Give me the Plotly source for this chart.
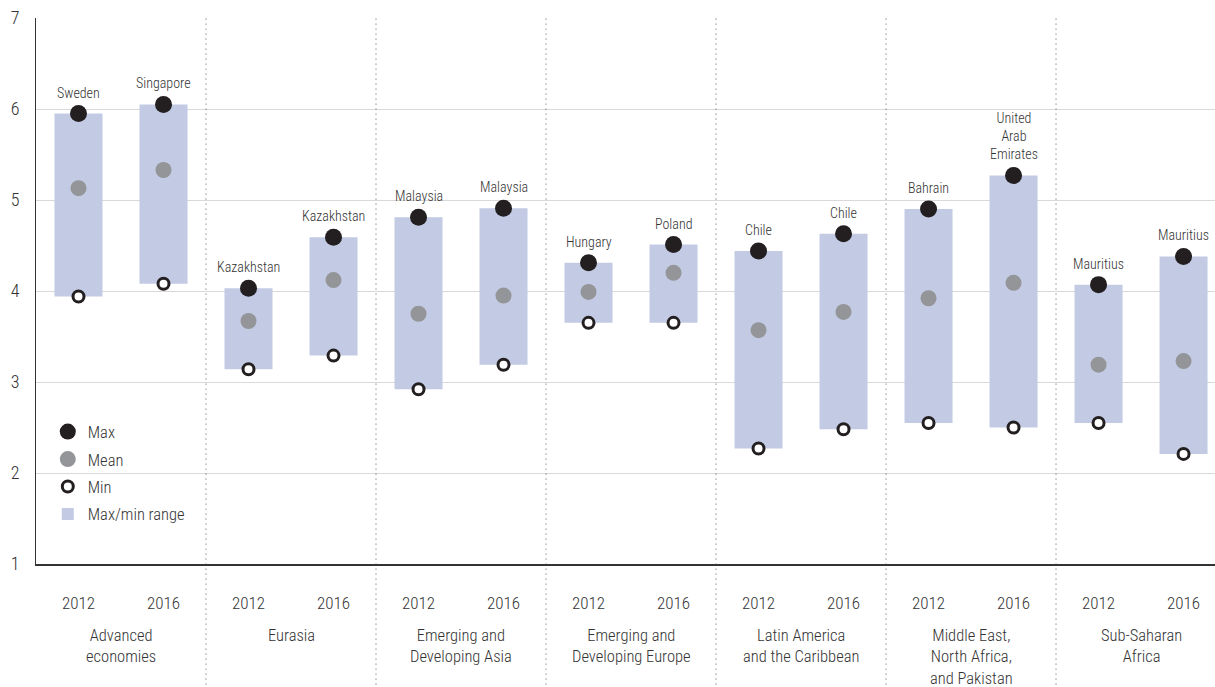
import plotly.graph_objects as go

groups = ["Advanced<br>economies", "Eurasia", "Emerging and<br>Developing Asia",
          "Emerging and<br>Developing Europe", "Latin America<br>and the Caribbean",
          "Middle East,<br>North Africa,<br>and Pakistan", "Sub-Saharan<br>Africa"]
years = ["2012", "2016"]
max_vals = [5.95, 6.05, 4.03, 4.59, 4.81, 4.91, 4.31, 4.51, 4.44, 4.63, 4.90, 5.27, 4.07, 4.38]
mean_vals = [5.13, 5.33, 3.67, 4.12, 3.75, 3.95, 3.99, 4.20, 3.57, 3.77, 3.92, 4.09, 3.19, 3.23]
min_vals = [3.94, 4.08, 3.14, 3.29, 2.92, 3.19, 3.65, 3.65, 2.27, 2.48, 2.55, 2.50, 2.55, 2.21]
max_labels = ["Sweden", "Singapore", "Kazakhstan", "Kazakhstan", "Malaysia", "Malaysia",
              "Hungary", "Poland", "Chile", "Chile", "Bahrain", "United<br>Arab<br>Emirates",
              "Mauritius", "Mauritius"]

FONT = "Roboto Condensed, Liberation Sans Narrow, Arial Narrow, sans-serif"
TXT = "#333333"
W = 300

xs = [2 * g + k for g in range(len(groups)) for k in range(len(years))]
tick_text = [years[k] for g in range(len(groups)) for k in range(len(years))]

fig = go.Figure()
fig.add_trace(go.Bar(
    x=xs, y=[a - b for a, b in zip(max_vals, min_vals)], base=min_vals,
    width=0.565, marker=dict(color="#c3cbe4", line=dict(width=0)),
    name="Max/min range", legendrank=4, legendgroup="d", hoverinfo="skip"))
fig.add_trace(go.Scatter(
    x=xs, y=max_vals, mode="markers", name="Max", legendrank=1, legendgroup="a",
    marker=dict(size=17, color="#231f20", line=dict(width=0))))
fig.add_trace(go.Scatter(
    x=xs, y=mean_vals, mode="markers", name="Mean", legendrank=2, legendgroup="b",
    marker=dict(size=16, color="#939598", line=dict(width=0))))
fig.add_trace(go.Scatter(
    x=xs, y=min_vals, mode="markers", name="Min", legendrank=3, legendgroup="c",
    marker=dict(size=11, color="white", line=dict(width=3, color="#231f20"))))

annotations = []
for x, y, lab in zip(xs, max_vals, max_labels):
    annotations.append(dict(x=x, y=y, xref="x", yref="y", text=lab, showarrow=False,
                            yanchor="bottom", yshift=11,
                            font=dict(family=FONT, size=14, color=TXT, weight=W)))
for g, name in enumerate(groups):
    annotations.append(dict(x=2 * g + 0.5, y=-0.11, xref="x", yref="paper", text=name,
                            showarrow=False, yanchor="top", xanchor="center",
                            font=dict(family=FONT, size=16.5, color=TXT, weight=W)))

shapes = []
for g in range(1, len(groups)):
    shapes.append(dict(type="line", xref="x", yref="paper", x0=2 * g - 0.5, x1=2 * g - 0.5,
                       y0=-0.23, y1=1, line=dict(color="#555555", width=1, dash="1px,4px")))

fig.update_layout(
    width=1215, height=687,
    margin=dict(l=36, r=0, t=18, b=123),
    paper_bgcolor="white", plot_bgcolor="white",
    font=dict(family=FONT, color=TXT, weight=W),
    barmode="overlay",
    showlegend=True,
    legend=dict(x=0.01, y=0.274, xanchor="left", yanchor="top",
                font=dict(family=FONT, size=16.5, color=TXT, weight=W),
                bgcolor="rgba(0,0,0,0)", traceorder="grouped", tracegroupgap=3),
    annotations=annotations, shapes=shapes,
    xaxis=dict(range=[-0.5, 13.37], tickmode="array", tickvals=xs, ticktext=tick_text,
               showgrid=False, zeroline=False, showline=True, linecolor="#333333", linewidth=2,
               ticks="outside", ticklen=23, tickcolor="rgba(0,0,0,0)",
               tickfont=dict(family=FONT, size=17, color=TXT, weight=W)),
    yaxis=dict(range=[1, 7], tickvals=[1, 2, 3, 4, 5, 6, 7], showgrid=True,
               gridcolor="#d9d9d9", gridwidth=1, zeroline=False, showline=True,
               linecolor="#333333", linewidth=1,
               ticks="outside", ticklen=12, tickcolor="rgba(0,0,0,0)",
               tickfont=dict(family=FONT, size=18, color=TXT, weight=W)),
)

fig.write_html("out.html", config={"displayModeBar": False},
               post_script="document.body.style.margin='0';")
